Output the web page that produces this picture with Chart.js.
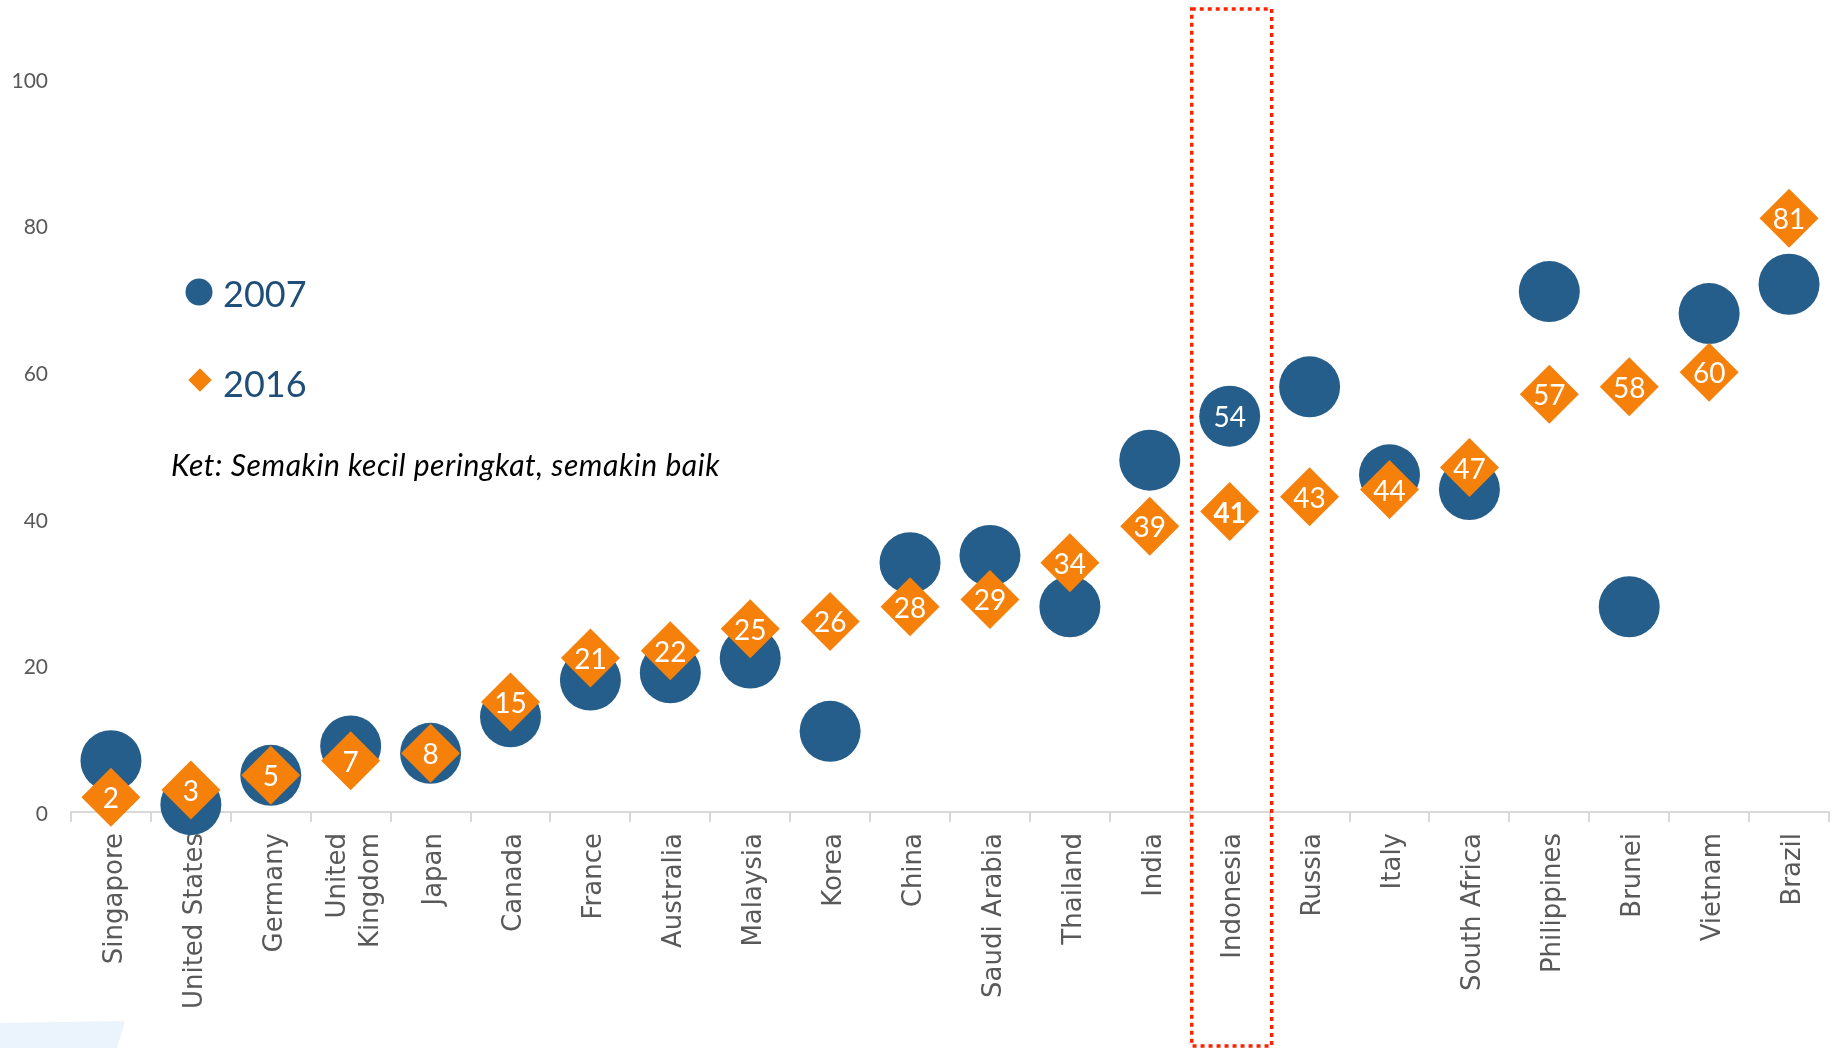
<!DOCTYPE html>
<html>
<head>
<meta charset="utf-8">
<title>Peringkat 2007 dan 2016</title>
<script src="https://cdn.jsdelivr.net/npm/chart.js@4.4.0/dist/chart.umd.min.js"></script>
<style>
  html, body { margin: 0; padding: 0; background: #fff; }
  #wrap { width: 1835px; height: 1048px; }
</style>
</head>
<body>
<div id="wrap"><canvas id="rankChart"></canvas></div>
<script>
// Ranking per country, 2007 vs 2016 (lower is better)
const countries = [
  "Singapore", "United States", "Germany", ["United", "Kingdom"], "Japan",
  "Canada", "France", "Australia", "Malaysia", "Korea", "China",
  "Saudi Arabia", "Thailand", "India", "Indonesia", "Russia", "Italy",
  "South Africa", "Philippines", "Brunei", "Vietnam", "Brazil",
];
const rank2007 = [7, 1, 5, 9, 8, 13, 18, 19, 21, 11, 34, 35, 28, 48, 54, 58, 46, 44, 71, 28, 68, 72];
const rank2016 = [2, 3, 5, 7, 8, 15, 21, 22, 25, 26, 28, 29, 34, 39, 41, 43, 44, 47, 57, 58, 60, 81];
const yTicks = [0, 20, 40, 60, 80, 100];
const highlight = "Indonesia";
const note = "Ket: Semakin kecil peringkat, semakin baik";

const BLUE = "#255E8A";
const ORANGE = "#F5800A";
const TEXT_BLUE = "#1F4E79";
const GREY = "#595959";

// Pale corner shape behind everything
const backdrop = {
  id: "backdrop",
  beforeDraw(chart) {
    const ctx = chart.ctx;
    ctx.save();
    ctx.fillStyle = "#fff";
    ctx.fillRect(0, 0, chart.width, chart.height);
    ctx.fillStyle = "#EBF4FD";
    ctx.beginPath();
    ctx.moveTo(0, 1023);
    ctx.lineTo(125, 1021);
    ctx.lineTo(117, chart.height);
    ctx.lineTo(0, chart.height);
    ctx.closePath();
    ctx.fill();
    ctx.restore();
  },
};

// Keep two-line category labels centred on their tick
const centerMultiline = {
  id: "centerMultiline",
  beforeDraw(chart) {
    const items = chart.scales.x.getLabelItems();
    items.forEach((item) => {
      if (Array.isArray(item.label) && item.label.length > 1) {
        item.options.translation[0] -= ((item.label.length - 1) * item.font.lineHeight) / 2;
      }
    });
  },
};

// White numbers on the markers
const valueLabels = {
  id: "valueLabels",
  afterDatasetsDraw(chart) {
    const ctx = chart.ctx;
    const hi = countries.indexOf(highlight);
    chart.data.datasets.forEach((ds, di) => {
      const meta = chart.getDatasetMeta(di);
      meta.data.forEach((pt, i) => {
        if (!ds.labelAll && i !== hi) return;
        const bold = ds.labelAll && i === hi;
        ctx.save();
        ctx.fillStyle = "#fff";
        ctx.font = (bold ? "bold " : "") + "28px Lato";
        ctx.textAlign = "center";
        ctx.textBaseline = "middle";
        ctx.fillText(String(ds.data[i]), pt.x, pt.y + 2);
        ctx.restore();
      });
    });
  },
};

// Dotted frame around the highlighted country
const highlightBox = {
  id: "highlightBox",
  afterDraw(chart) {
    const x = chart.scales.x;
    const i = countries.indexOf(highlight);
    const half = (x.getPixelForTick(1) - x.getPixelForTick(0)) / 2;
    const cx = x.getPixelForTick(i);
    const ctx = chart.ctx;
    ctx.save();
    ctx.strokeStyle = "#FF2200";
    ctx.lineWidth = 3.5;
    ctx.setLineDash([4, 4]);
    ctx.strokeRect(cx - half + 2, 9, half * 2, 1037);
    ctx.restore();
  },
};

// Legend and note placed inside the plot
const sideLegend = {
  id: "sideLegend",
  afterDraw(chart) {
    const ctx = chart.ctx;
    const ds = chart.data.datasets;
    ctx.save();

    ctx.fillStyle = ds[0].backgroundColor;
    ctx.beginPath();
    ctx.arc(199, 292, 13.5, 0, Math.PI * 2);
    ctx.fill();

    ctx.fillStyle = ds[1].backgroundColor;
    ctx.beginPath();
    ctx.moveTo(200 - 11.7, 380);
    ctx.lineTo(200, 380 - 11.7);
    ctx.lineTo(200 + 11.7, 380);
    ctx.lineTo(200, 380 + 11.7);
    ctx.closePath();
    ctx.fill();

    ctx.fillStyle = TEXT_BLUE;
    ctx.font = "36px Lato";
    ctx.textBaseline = "middle";
    ctx.fillText(ds[0].label, 223, 295);
    ctx.fillText(ds[1].label, 223, 385);

    ctx.fillStyle = "#000";
    ctx.font = "italic 30px Lato";
    ctx.letterSpacing = "0.6px";
    ctx.fillText(note, 171, 466);
    ctx.restore();
  },
};

const ctx = document.getElementById("rankChart").getContext("2d");
const rankChart = new Chart(ctx, {
  type: "line",
  data: {
    labels: countries,
    datasets: [
      {
        label: "2007",
        data: rank2007,
        showLine: false,
        pointStyle: "circle",
        pointRadius: 30.5,
        pointHoverRadius: 30.5,
        pointBorderWidth: 0,
        backgroundColor: BLUE,
        borderColor: BLUE,
        order: 1,
        labelAll: false,
      },
      {
        label: "2016",
        data: rank2016,
        showLine: false,
        pointStyle: "rectRot",
        pointRadius: 29.5,
        pointHoverRadius: 29.5,
        pointBorderWidth: 0,
        backgroundColor: ORANGE,
        borderColor: ORANGE,
        order: 0,
        labelAll: true,
      },
    ],
  },
  options: {
    responsive: true,
    maintainAspectRatio: false,
    animation: false,
    events: [],
    clip: false,
    layout: { autoPadding: false, padding: { top: 79, right: 6, bottom: 0, left: 0 } },
    plugins: {
      legend: { display: false },
      tooltip: { enabled: false },
    },
    scales: {
      x: {
        offset: true,
        grid: {
          offset: true,
          drawOnChartArea: false,
          tickLength: 10,
          color: "#D9D9D9",
          lineWidth: 2,
        },
        border: { display: true, color: "#D9D9D9", width: 2 },
        ticks: {
          autoSkip: false,
          minRotation: 90,
          maxRotation: 90,
          padding: 11,
          labelOffset: 4,
          color: GREY,
          font: { family: "DejaVu Sans", size: 26, lineHeight: 1.3 },
        },
        afterFit(scale) {
          scale.height = 236;
          scale.paddingLeft = 0;
          scale.paddingRight = 0;
        },
      },
      y: {
        min: 0,
        max: 100,
        grid: { display: false, drawTicks: false },
        border: { display: false },
        ticks: {
          padding: 23,
          labelOffset: 2,
          color: GREY,
          font: { family: "Lato", size: 21 },
        },
        afterBuildTicks(scale) {
          scale.ticks = yTicks.map((v) => ({ value: v }));
        },
        afterFit(scale) {
          scale.width = 71;
          scale.paddingTop = 0;
          scale.paddingBottom = 0;
        },
      },
    },
  },
  plugins: [backdrop, centerMultiline, valueLabels, highlightBox, sideLegend],
});
</script>
</body>
</html>
